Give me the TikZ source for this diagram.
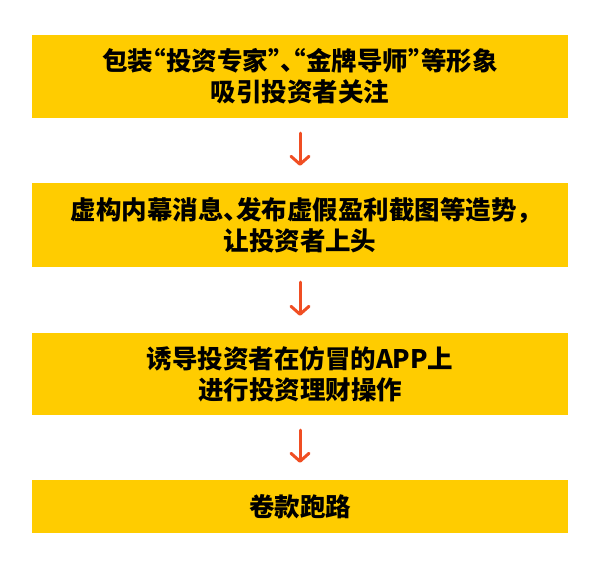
\documentclass[tikz,border=0pt]{standalone}
\usepackage{fontspec}
\newfontfamily\cjk{Noto Sans CJK SC}
\usetikzlibrary{arrows.meta}
\definecolor{boxyellow}{HTML}{FFCC00}
\definecolor{arrowred}{HTML}{F04E23}
\newcommand{\hpr}[1]{\makebox[0.5em][r]{#1}}
\newcommand{\hpl}[1]{\makebox[0.5em][l]{#1}}
\tikzset{
    stepbox/.style={fill=boxyellow, minimum width=536pt, align=center,
        font=\cjk\bfseries\fontsize{25.5pt}{31pt}\selectfont, inner sep=0pt},
    flow/.style={draw=arrowred, line width=3pt, line cap=round,
        -{Straight Barb[length=8pt,width=18pt,line cap=round,round]},
        shorten <=15pt, shorten >=17pt}
}
\begin{document}
\begin{tikzpicture}[x=1pt, y=-1pt]
    \useasboundingbox (0,0) rectangle (600,567);
    % Boxes
    \node (lure) [stepbox, minimum height=83pt] at (300,76.5) {包装\hpr{“}投资专家\hpl{”}\hpl{、}\hpr{“}金牌导师\hpl{”}等形象\\吸引投资者关注};
    \node (hype) [stepbox, minimum height=84pt] at (300,225) {虚构内幕消息\hpl{、}发布虚假盈利截图等造势\hpl{，}\\让投资者上头};
    \node (fake) [stepbox, minimum height=82pt] at (300,374) {诱导投资者在仿冒的APP上\\进行投资理财操作};
    \node (flee) [stepbox, minimum height=53pt] at (300,506.5) {卷款跑路};

    % Arrows
    \draw[flow] (lure) -- (hype);
    \draw[flow] (hype) -- (fake);
    \draw[flow] (fake) -- (flee);
\end{tikzpicture}
\end{document}
